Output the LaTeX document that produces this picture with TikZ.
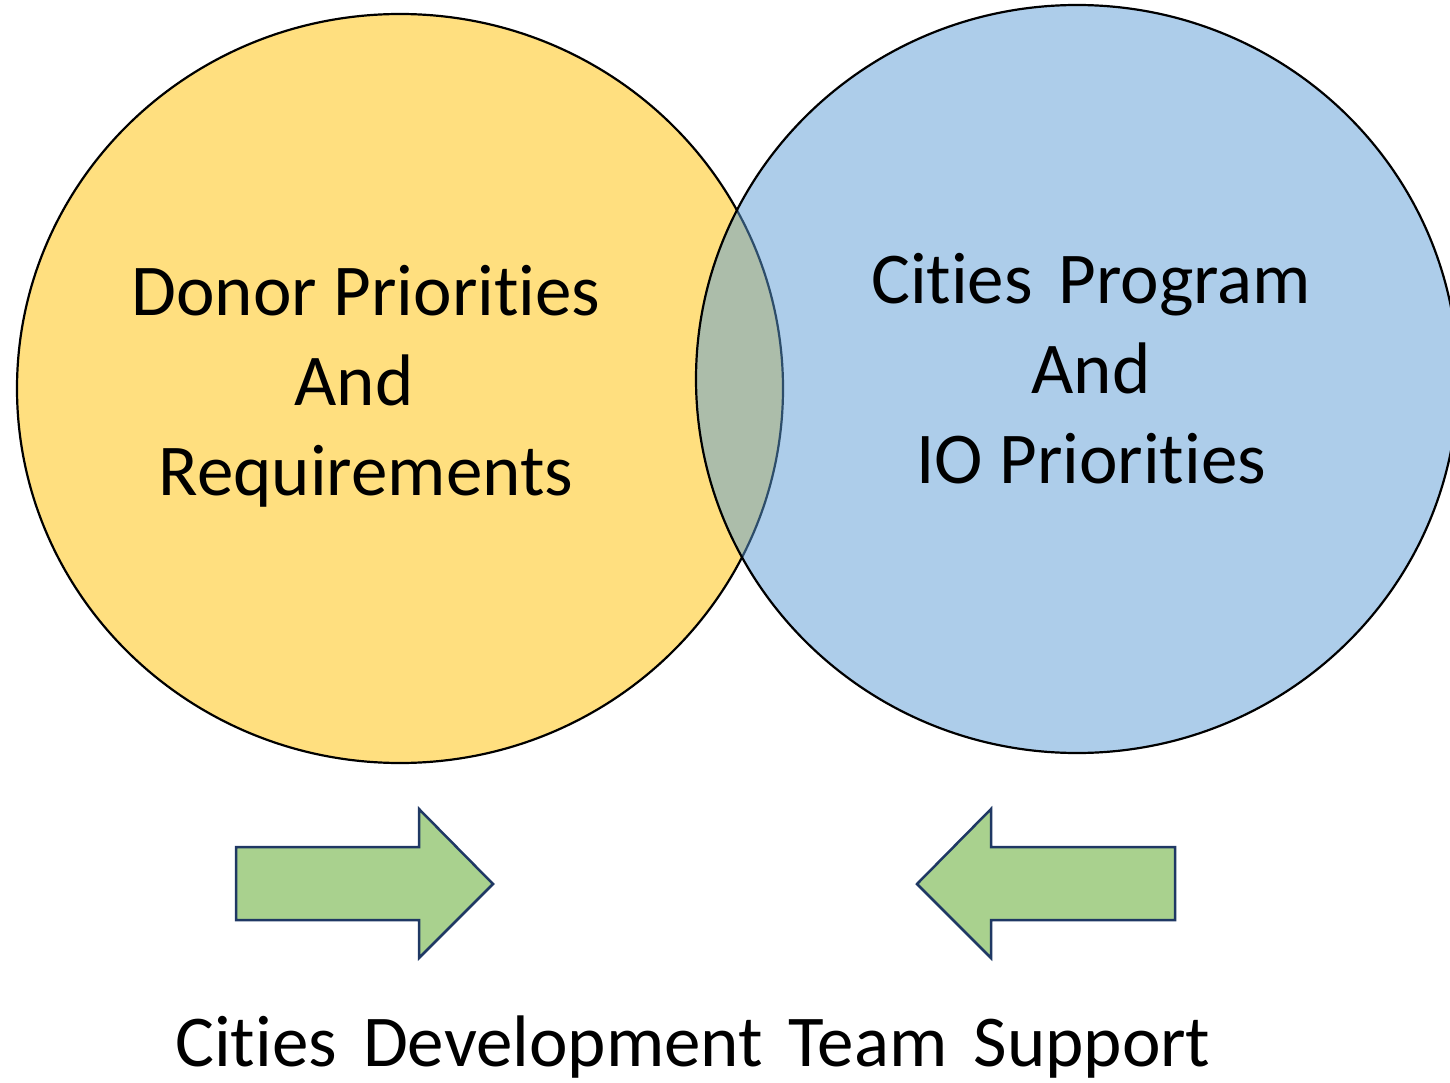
\documentclass[tikz,border=0pt]{standalone}
\usepackage{fontspec}
\setmainfont{Carlito}[Ligatures={NoCommon,NoContextual}]
\usetikzlibrary{shapes.geometric}
\definecolor{gold}{HTML}{FFC000}
\definecolor{officeblue}{HTML}{5B9BD5}
\definecolor{arrowgreen}{HTML}{A9D18E}
\definecolor{navy}{HTML}{1F3864}
\newcommand{\wsp}{\hspace{26pt}}
\begin{document}
\begin{tikzpicture}[x=1pt,y=-1pt,
  venn/.style={ellipse, draw=black, line width=2.2pt, fill opacity=0.5, draw opacity=1, inner sep=0pt},
  bigtext/.style={align=center, font=\fontsize{73}{90}\selectfont, inner sep=0pt, anchor=base},
  fatarrow/.style={fill=arrowgreen, draw=navy, line width=2.5pt, line join=miter}]
\useasboundingbox (0,0) rectangle (1450,1083);
\node[venn, fill=gold, minimum width=766pt, minimum height=749pt] (donor) at (400,388.5) {};
\node[venn, fill=officeblue, minimum width=762pt, minimum height=748pt] (cities) at (1077,379) {};
\node[bigtext] (donortext) at (366,495) {Donor Priorities\\And\kern24pt\\Requirements};
\node[bigtext] (citiestext) at (1091,483) {Cities\wsp Program\\And\\IO Priorities};
\draw[fatarrow] (236,847) -- (419,847) -- (419,809) -- (493,884) -- (419,958) -- (419,920) -- (236,920) -- cycle;
\draw[fatarrow] (1175,847) -- (991,847) -- (991,809) -- (917,884) -- (991,958) -- (991,920) -- (1175,920) -- cycle;
\node[bigtext] (support) at (693,1066) {Cities\wsp Development\wsp Team\wsp Support};
\end{tikzpicture}
\end{document}
